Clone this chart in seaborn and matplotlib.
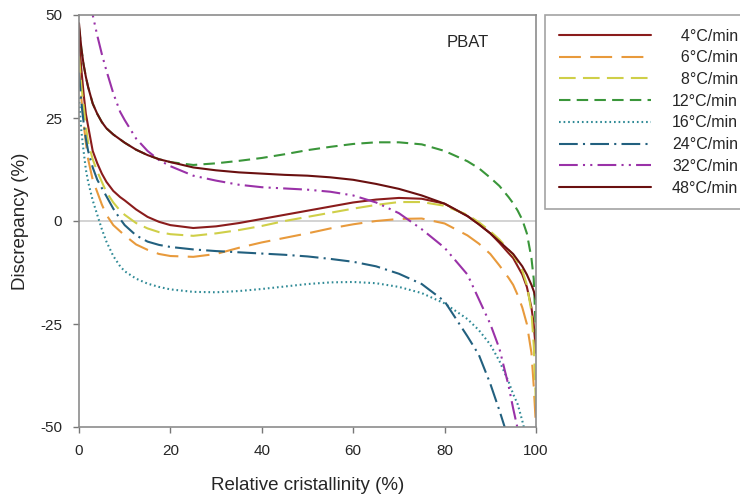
import numpy as np
import pandas as pd
import matplotlib
matplotlib.use("Agg")
import matplotlib.pyplot as plt
import seaborn as sns

# ---------------- data ----------------
x = [0, 0.5, 1, 1.5, 2, 3, 4, 5, 6, 7.5, 9, 10, 12.5, 15, 17.5, 20, 25, 30, 35, 40,
     45, 50, 55, 60, 65, 70, 75, 80, 85, 87.5, 90, 92, 94, 95, 96, 97, 98, 99, 99.5, 100]

labels = ["4°C/min", "6°C/min", "8°C/min", "12°C/min",
          "16°C/min", "24°C/min", "32°C/min", "48°C/min"]

r4 = [45, 37, 31, 26, 23, 17, 14, 11.5, 9.5, 7.3, 5.8, 5, 2.8, 1, -0.2, -1, -1.7, -1.3,
      -0.5, 0.5, 1.5, 2.5, 3.5, 4.5, 5.2, 5.6, 5.4, 4.2, 1.2, -0.8, -3, -5.3, -7.8, -9,
      -11, -13, -16, -21, -25, -32]
r6 = [38, 30, 24, 19, 15, 10, 7, 4, 1.5, -1, -2.5, -3.5, -5.7, -7, -8, -8.5, -8.7, -8,
      -6.5, -5.2, -4.1, -3, -1.8, -0.8, 0, 0.5, 0.6, -0.6, -3.5, -5.5, -8, -10.8, -13.8,
      -15.5, -18, -21, -25, -32, -40, -50]
r8 = [40, 33, 28, 23, 19, 15, 12, 9.5, 7, 4.5, 2.5, 1.5, -0.5, -1.8, -2.7, -3.2, -3.6,
      -3, -2.2, -1.2, 0, 1, 2, 3, 3.9, 4.6, 4.6, 3.7, 1.5, -0.3, -2.5, -4.5, -7, -8.2,
      -10, -12, -15.5, -22, -30, -45]
r12 = [47, 42, 38, 35, 32.5, 28.5, 26, 24, 22.5, 21, 19.8, 19, 17.3, 16, 15, 14.3, 13.6,
       14, 14.6, 15.3, 16.2, 17.2, 18, 18.7, 19.1, 19.1, 18.6, 17, 14.5, 12.8, 10.5, 8.5,
       5.8, 4.3, 2.5, 0.3, -3, -9, -14, -28]
r16 = [30, 22, 17, 12.5, 9.5, 5, 1.5, -2, -5, -8.5, -11, -12.2, -14, -15.2, -16, -16.6,
       -17.2, -17.3, -17, -16.5, -15.9, -15.3, -14.9, -14.8, -15.1, -16, -17.5, -20,
       -23.8, -26.5, -30, -34, -39, -42, -44.5, -48.5, -53, -60, -63, -66]
r24 = [36, 29, 24, 20, 17, 13, 10, 8, 6, 3, 0.5, -1, -3.5, -5, -5.8, -6.3, -6.9, -7.3,
       -7.6, -7.9, -8.2, -8.6, -9.2, -9.9, -11, -12.8, -15.3, -19.5, -28, -32.5, -39.5,
       -46, -53, -57, -62, -67, -72, -77, -80, -82]
r32 = [75, 68, 63, 59, 56, 50, 45, 40.5, 36.5, 31, 26.5, 24.5, 20, 17, 14.8, 13.3, 11,
       9.8, 8.8, 8.2, 7.9, 7.6, 7.1, 6.2, 4.5, 1.9, -2, -6.5, -13, -19, -25, -31, -40,
       -45.5, -50.5, -58, -65, -72, -76, -80]
r48 = [48, 42, 38, 35, 32.5, 28.5, 26, 24, 22.5, 21, 19.8, 19, 17.3, 16, 15, 14.3, 13,
       12.3, 11.8, 11.5, 11.2, 11, 10.6, 10, 9, 7.8, 6.2, 4.2, 1.2, -0.8, -3, -5, -7,
       -8, -9.5, -11, -13, -15.5, -17, -19]

series = [r4, r6, r8, r12, r16, r24, r32, r48]

colors = ["#8a1c1c", "#e89a3c", "#cfcf48", "#3a963a",
          "#2f8a96", "#22607f", "#9a32a8", "#6a1010"]
styles = ["-", (0, (10.5, 4.5)), (0, (8, 3.5)), (0, (5.5, 3)),
          (0, (0.8, 1.4)), (0, (9, 2.5, 1, 2.5)), (0, (9, 2.5, 1, 2.5, 1, 2.5)), "-"]

# ---------------- style ----------------
sns.set_style("white")
plt.rcParams["font.family"] = ["Liberation Sans", "DejaVu Sans"]
plt.rcParams["axes.unicode_minus"] = False

fig = plt.figure(figsize=(7.4, 4.96), dpi=100)
ax = fig.add_axes([79 / 740, 1 - 427 / 496, (536 - 79) / 740, (427 - 15) / 496])

ax.axhline(0, color="#cccccc", lw=1.2, zorder=0.5)

for lab, y, c, ls in zip(labels, series, colors, styles):
    df = pd.DataFrame({"x": x, "y": y})
    sns.lineplot(data=df, x="x", y="y", ax=ax, color=c, linestyle=ls,
                 linewidth=1.5, label=lab, sort=False, estimator=None)

ax.set_xlim(0, 100)
ax.set_ylim(-50, 50)
ax.set_xticks([0, 20, 40, 60, 80, 100])
ax.set_yticks([-50, -25, 0, 25, 50])

for s in ax.spines.values():
    s.set_color("#8c8c8c")
    s.set_linewidth(1.2)

ax.tick_params(axis="both", direction="out", length=4.5, width=1, color="#777777",
               labelsize=11, labelcolor="#262626", pad=7.5)
ax.tick_params(axis="x", bottom=True)
ax.tick_params(axis="y", left=True)

ax.set_xlabel("Relative cristallinity (%)", fontsize=13.5, color="#262626", labelpad=14)
ax.set_ylabel("Discrepancy (%)", fontsize=13.5, color="#262626", labelpad=8)

ax.text(80.5, 43.3, "PBAT", fontsize=12, color="#262626", ha="left", va="center")

handles, labs = ax.get_legend_handles_labels()
pad_labels = [("\u2007" + l) if len(l) < 8 else l for l in labs]
leg = ax.legend(handles, pad_labels, loc="upper left",
                bbox_to_anchor=(545 / 740, 1 - 15 / 496), bbox_transform=fig.transFigure,
                borderaxespad=0, frameon=True, fancybox=False, shadow=False,
                fontsize=11.5, handlelength=5.8, handletextpad=1.3,
                labelspacing=0.42, borderpad=0.85)
leg.get_frame().set_edgecolor("#8c8c8c")
leg.get_frame().set_linewidth(1.2)
for t in leg.get_texts():
    t.set_color("#262626")

fig.savefig("out.png", dpi=100)
